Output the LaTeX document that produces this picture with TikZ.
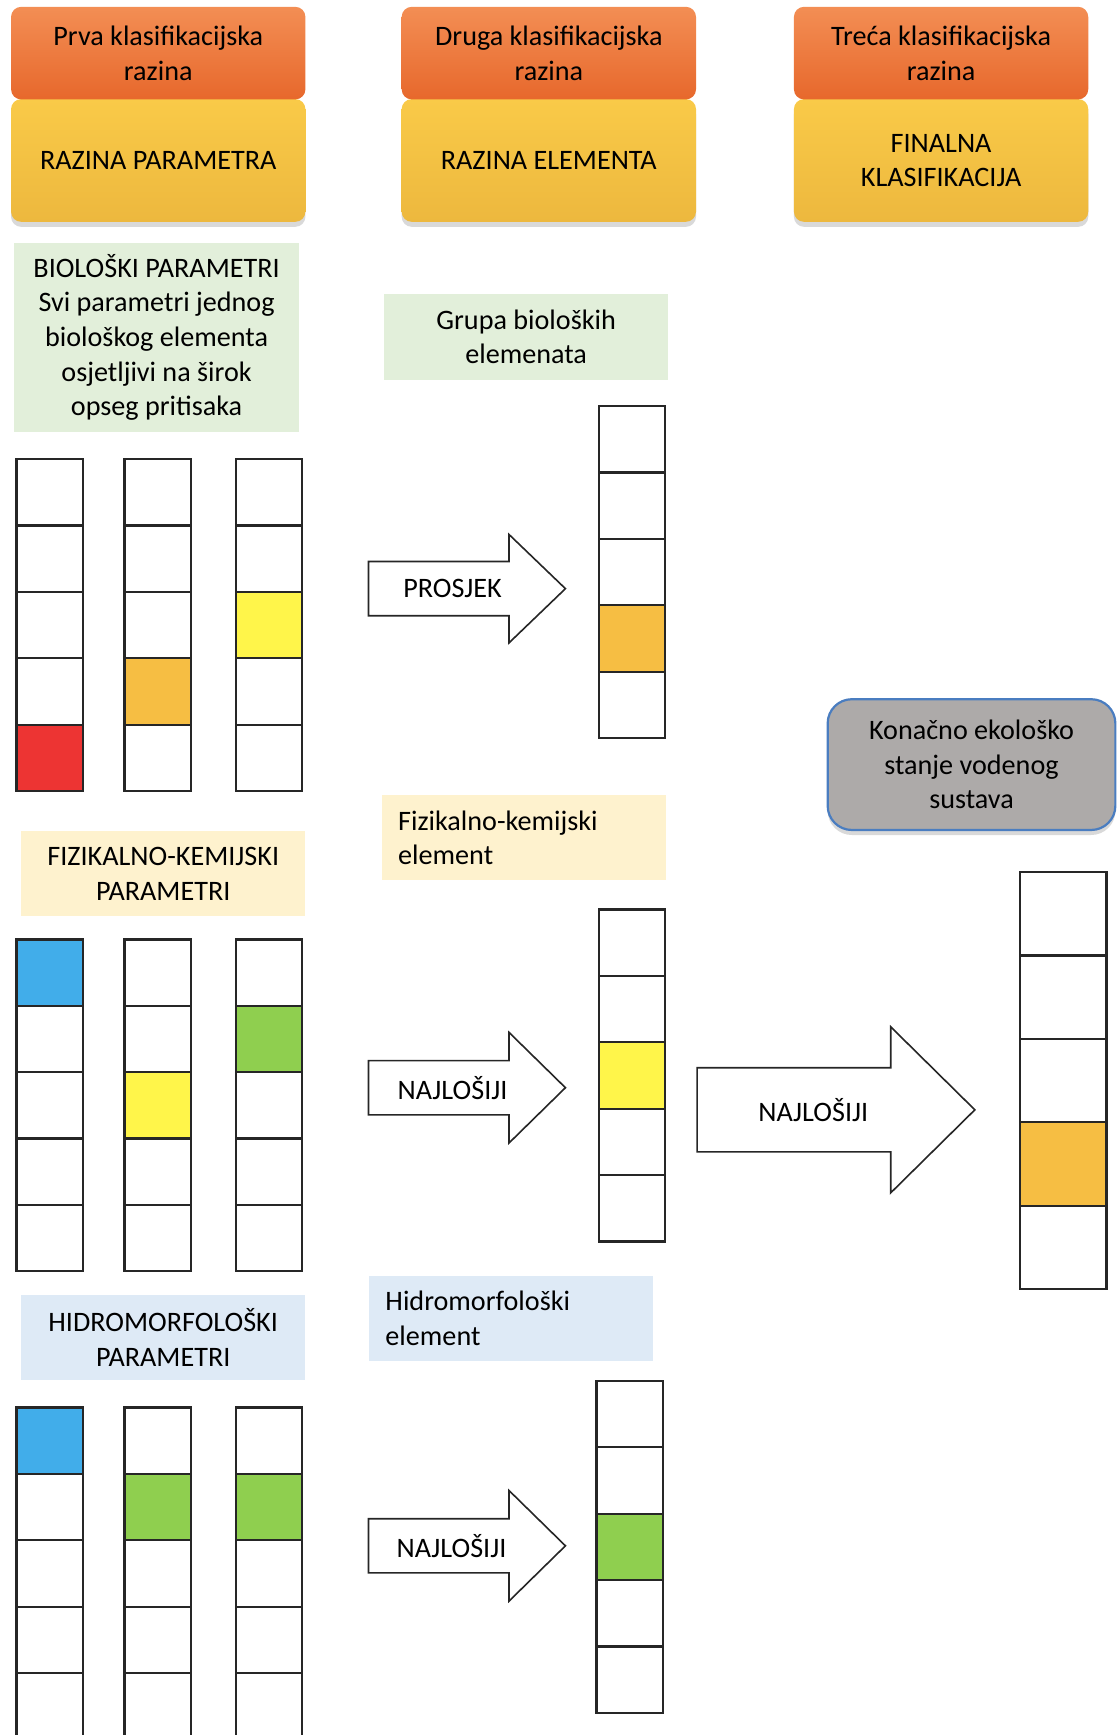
\documentclass[tikz,border=0pt]{standalone}
\usepackage{fontspec}
\setmainfont{Carlito}
\usetikzlibrary{positioning}
\usetikzlibrary{shadows}

\definecolor{narGore}{RGB}{243,142,84}
\definecolor{narDolje}{RGB}{231,104,44}
\definecolor{zutGore}{RGB}{249,202,72}
\definecolor{zutDolje}{RGB}{237,184,62}
\definecolor{zelenaPod}{RGB}{226,239,218}
\definecolor{zutaPod}{RGB}{254,242,206}
\definecolor{plavaPod}{RGB}{222,234,246}
\definecolor{crvena}{RGB}{237,52,51}
\definecolor{naranca}{RGB}{246,190,67}
\definecolor{zuta}{RGB}{255,245,74}
\definecolor{plava}{RGB}{65,173,234}
\definecolor{zelena}{RGB}{143,207,79}
\definecolor{siva}{RGB}{173,170,169}
\definecolor{rub}{RGB}{74,125,192}

% stupac od pet celija: ime, gornja celija, obojena celija, boja, stil
\newcommand{\stupac}[5]{%
  \node[celija,#5] (#1-1) at (#2) {};
  \foreach \i [remember=\i as \j (initially 1)] in {2,...,5}
    \node[celija,#5] (#1-\i) [below=0pt of #1-\j] {};
  \node[celija,#5,fill=#4] at (#1-#3) {};
}
% blok strelica: ime, rep, baza glave, vrh, y, pola tijela, pola glave, x teksta, tekst
\newcommand{\blok}[9]{%
  \draw[strelica] (#2,#5-#6) -- (#3,#5-#6) -- (#3,#5-#7) -- (#4,#5)
    -- (#3,#5+#7) -- (#3,#5+#6) -- (#2,#5+#6) -- cycle;
  \node (#1) at (#8,#5) {#9};
}

\begin{document}
\begin{tikzpicture}
[x=0.55pt,y=-0.55pt,%
  every node/.style={font=\fontsize{14}{17.2}\selectfont,align=center},%
  razina/.style={rounded corners=5pt,minimum width=146.3pt,inner sep=0pt,
    top color=narGore,bottom color=narDolje,draw=none},%
  opis/.style={rounded corners=5pt,minimum width=146.3pt,minimum height=61pt,
    inner sep=0pt,top color=zutGore,bottom color=zutDolje,draw=none,
    drop shadow={shadow xshift=0pt,shadow yshift=-2.5pt,opacity=0.3}},%
  oznaka/.style={minimum width=141.4pt,inner sep=0pt},%
  oznakaL/.style={text width=125pt,align=left,inner xsep=8.2pt,inner ysep=0pt,
    minimum height=42.4pt},%
  celija/.style={draw=black!85,line width=1.1pt,fill=white,minimum size=33pt,
    inner sep=0pt,outer sep=0pt},%
  strelica/.style={draw=black!85,line width=0.8pt,fill=white}]
\useasboundingbox (0,0) rectangle (1009,1568);

% zaglavlja
\node[opis] (opis1) at (143,145) {RAZINA PARAMETRA};
\node[opis] (opis2) at (496,145) {RAZINA ELEMENTA};
\node[opis] (opis3) at (850.5,145) {FINALNA\\KLASIFIKACIJA};
\node[razina,minimum height=46pt] (raz1) at (143,48) {Prva klasifikacijska\\razina};
\node[razina,minimum height=46pt] (raz2) at (496,48) {Druga klasifikacijska\\razina};
\node[razina,minimum height=46pt] (raz3) at (850.5,48) {Treća klasifikacijska\\razina};

% oznake
\node[oznaka,fill=zelenaPod,minimum height=93.5pt] (bio) at (141.5,305)
  {BIOLOŠKI PARAMETRI\\Svi parametri jednog\\biološkog elementa\\osjetljivi na širok\\opseg pritisaka};
\node[oznaka,fill=zelenaPod,minimum height=42.4pt] (grupa) at (475.5,304.5)
  {Grupa bioloških\\elemenata};
\node[oznaka,fill=zutaPod,minimum height=42.4pt] (fiz) at (147.5,789.5)
  {FIZIKALNO-KEMIJSKI\\PARAMETRI};
\node[oznakaL,fill=zutaPod] (fizel) at (473.5,757) {Fizikalno-kemijski\\element};
\node[oznaka,fill=plavaPod,minimum height=42.4pt] (hidro) at (147.5,1208.5)
  {HIDROMORFOLOŠKI\\PARAMETRI};
\node[oznakaL,fill=plavaPod] (hidroel) at (462,1191.5) {Hidromorfološki\\element};
\node[rounded corners=12pt,minimum width=143pt,minimum height=65pt,inner sep=0pt,
  fill=siva,draw=rub,line width=1.1pt,
  drop shadow={shadow xshift=0pt,shadow yshift=-2.5pt,opacity=0.3}] (konacno)
  at (878,691) {Konačno ekološko\\stanje vodenog\\sustava};

% bioloski
\stupac{bioA}{45,445}{5}{crvena}{}
\stupac{bioB}{142.5,445}{4}{naranca}{}
\stupac{bioC}{243,445}{3}{zuta}{}
\blok{prosjek}{333}{460}{511}{532}{24.5}{49}{409}{PROSJEK}
\stupac{bioE}{571,397}{4}{naranca}{}

% fizikalno-kemijski
\stupac{fizA}{45,879}{1}{plava}{}
\stupac{fizB}{142.5,879}{3}{zuta}{}
\stupac{fizC}{243,879}{2}{zelena}{}
\blok{najlosiji1}{333}{460}{511}{983}{24.5}{50}{409}{NAJLOŠIJI}
\stupac{fizE}{571,852}{3}{zuta}{}

% hidromorfoloski
\stupac{hidA}{45,1302}{1}{plava}{}
\stupac{hidB}{142.5,1302}{2}{zelena}{}
\stupac{hidC}{243,1302}{2}{zelena}{}
\blok{najlosiji2}{333}{460}{511}{1397}{24.5}{50}{408}{NAJLOŠIJI}
\stupac{hidE}{569,1278}{3}{zelena}{}

% konacno
\blok{najlosiji3}{630}{805}{881}{1003}{38}{75}{735}{NAJLOŠIJI}
\stupac{kon}{961,825.7}{4}{naranca}{minimum width=42.9pt,minimum height=41.5pt}
\end{tikzpicture}
\end{document}
